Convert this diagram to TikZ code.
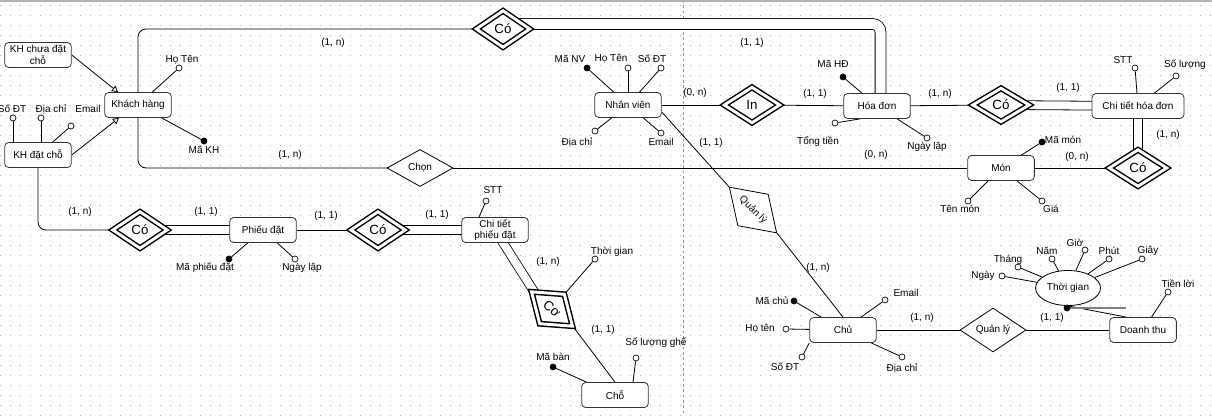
\documentclass[tikz,border=0pt]{standalone}
\usepackage{fontspec}
\setmainfont{Liberation Sans}
\usetikzlibrary{shapes.geometric,arrows.meta,calc,backgrounds}

\begin{document}
\begin{tikzpicture}[x=0.75pt,y=-0.75pt,
  font=\fontsize{7.5}{8.5}\selectfont,
  thing/.style={draw=black!80,fill=white,rounded corners=3pt,line width=0.6pt,minimum width=50pt,minimum height=18.75pt,inner sep=1pt,align=center},
  weak/.style={diamond,draw,fill=white,double,double distance=2.2pt,line width=1.1pt,inner sep=0pt,font=\fontsize{10}{12}\selectfont},
  rel/.style={diamond,draw,fill=white,line width=0.6pt,inner sep=0pt,minimum width=49.5pt,minimum height=27.75pt},
  att/.style={circle,draw,fill=white,line width=0.5pt,inner sep=0pt,minimum size=4.5pt},
  key/.style={att,fill=black},
  card/.style={inner sep=0pt},
  txt/.style={inner sep=0pt},
  dbl/.style={double,double distance=6pt,line width=0.6pt},
  link/.style={line width=0.6pt}]
  \useasboundingbox (0,0) rectangle (1212,416);

  % entities
  \node[thing] (KHc) at (38,55) {KH chưa đặt\\chỗ};
  \node[thing] (KH) at (138,105) {Khách hàng};
  \node[thing] (KHd) at (38,155) {KH đặt chỗ};
  \node[thing] (NV) at (628,105) {Nhân viên};
  \node[thing] (HD) at (877,106) {Hóa đơn};
  \node[thing,minimum width=69pt] (CTHD) at (1138,106) {Chi tiết hóa đơn};
  \node[thing] (Mon) at (1001,168) {Món};
  \node[thing] (PD) at (263,230) {Phiếu đặt};
  \node[thing] (CTPD) at (495,230) {Chi tiết\\phiếu đặt};
  \node[thing] (Cho) at (615,395) {Chỗ};
  \node[thing] (Chu) at (843,330) {Chủ};
  \node[thing] (DT) at (1143,330) {Doanh thu};
  \node[ellipse,draw,fill=white,line width=0.6pt,minimum width=48.75pt,minimum height=26.25pt,inner sep=0pt] (TG) at (1068,288) {Thời gian};

  % relationships
  \node[weak,minimum width=40.5pt,minimum height=27.75pt] (CoKH) at (503,29) {Có};
  \node[weak,minimum width=42pt,minimum height=27pt] (In) at (752,105) {In};
  \node[weak,minimum width=42.75pt,minimum height=25.5pt] (CoHD) at (1001,105) {Có};
  \node[weak,minimum width=43.5pt,minimum height=27.75pt] (CoMon) at (1138,168) {Có};
  \node[weak,minimum width=41.25pt,minimum height=27.75pt] (CoPD) at (140,230) {Có};
  \node[weak,minimum width=41.25pt,minimum height=27.75pt] (CoCT) at (378,230) {Có};
  \node[weak,minimum width=40.5pt,minimum height=29.25pt,rotate=-40] (CoCho) at (552,309) {Cơ};
  \node[rel] (Chon) at (420,168) {Chọn};
  \node[rel,rotate=-44] (QLnv) at (753,210) {Quản lý};
  \node[rel] (QLdt) at (993,330) {Quản lý};

  % attributes
  \node[att] (khHo) at (179,68) {};
  \node[txt] (khHoT) at (182,60) {Họ Tên};
  \node[key] (khMa) at (204,141) {};
  \node[txt] (khMaT) at (204,150) {Mã KH};
  \node[att] (kdSdt) at (13,118) {};
  \node[txt] (kdSdtT) at (12,109) {Số ĐT};
  \node[att] (kdDc) at (41,118) {};
  \node[txt] (kdDcT) at (51,109) {Địa chỉ};
  \node[att] (kdEm) at (71,126) {};
  \node[txt] (kdEmT) at (88,109) {Email};
  \node[key] (pdMa) at (229,259) {};
  \node[txt] (pdMaT) at (205,268) {Mã phiếu đặt};
  \node[att] (pdNgay) at (295,259) {};
  \node[txt] (pdNgayT) at (302,268) {Ngày lập};
  \node[att] (ctStt) at (486,201) {};
  \node[txt] (ctSttT) at (493,190) {STT};
  \node[att] (coTg) at (595,259) {};
  \node[txt] (coTgT) at (612,252) {Thời gian};
  \node[key] (choMa) at (553,367) {};
  \node[txt] (choMaT) at (553,357) {Mã bàn};
  \node[att] (choSl) at (636,358) {};
  \node[txt] (choSlT) at (656,343) {Số lượng ghế};
  \node[key] (nvMa) at (587,68) {};
  \node[txt] (nvMaT) at (570,59) {Mã NV};
  \node[att] (nvHo) at (628,68) {};
  \node[txt] (nvHoT) at (611,59) {Họ Tên};
  \node[att] (nvSdt) at (661,68) {};
  \node[txt] (nvSdtT) at (652,59) {Số ĐT};
  \node[att] (nvDc) at (595,131) {};
  \node[txt] (nvDcT) at (577,142) {Địa chỉ};
  \node[att] (nvEm) at (661,133) {};
  \node[txt] (nvEmT) at (661,142) {Email};
  \node[key] (hdMa) at (843,77) {};
  \node[txt] (hdMaT) at (833,64) {Mã HĐ};
  \node[att] (hdTong) at (835,123) {};
  \node[txt] (hdTongT) at (818,142) {Tổng tiền};
  \node[att] (hdNgay) at (927,138) {};
  \node[txt] (hdNgayT) at (927,147) {Ngày lập};
  \node[att] (cthStt) at (1135,68) {};
  \node[txt] (cthSttT) at (1123,60) {STT};
  \node[att] (cthSl) at (1176,76) {};
  \node[txt] (cthSlT) at (1185,65) {Số lượng};
  \node[key] (monMa) at (1042,142) {};
  \node[txt] (monMaT) at (1063,140) {Mã món};
  \node[att] (monTen) at (968,201) {};
  \node[txt] (monTenT) at (960,209) {Tên món};
  \node[att] (monGia) at (1042,201) {};
  \node[txt] (monGiaT) at (1051,209) {Giá};
  \node[key] (chuMa) at (794,301) {};
  \node[txt] (chuMaT) at (772,301) {Mã chủ};
  \node[att] (chuEm) at (885,300) {};
  \node[txt] (chuEmT) at (906,293) {Email};
  \node[att] (chuHo) at (786,329) {};
  \node[txt] (chuHoT) at (760,329) {Họ tên};
  \node[att] (chuSdt) at (802,357) {};
  \node[txt] (chuSdtT) at (785,367) {Số ĐT};
  \node[att] (chuDc) at (902,357) {};
  \node[txt] (chuDcT) at (902,368) {Địa chỉ};
  \node[att] (dtTl) at (1168,292) {};
  \node[txt] (dtTlT) at (1178,284) {Tiền lời};
  \node[key] (dtTg) at (1067,308) {};
  \coordinate (dtTgEnd) at (1126,308);
  \node[att] (tgNgay) at (1002,276) {};
  \node[txt] (tgNgayT) at (983,276) {Ngày};
  \node[att] (tgThang) at (1018,267) {};
  \node[txt] (tgThangT) at (1008,260) {Tháng};
  \node[att] (tgNam) at (1052,259) {};
  \node[txt] (tgNamT) at (1047,251) {Năm};
  \node[att] (tgGio) at (1085,250) {};
  \node[txt] (tgGioT) at (1075,243) {Giờ};
  \node[att] (tgPhut) at (1109,259) {};
  \node[txt] (tgPhutT) at (1109,251) {Phút};
  \node[att] (tgGiay) at (1142,259) {};
  \node[txt] (tgGiayT) at (1148,251) {Giây};

  % cardinalities
  \node[card] (c1) at (333,43) {(1, n)};
  \node[card] (c2) at (752,43) {(1, 1)};
  \node[card] (c3) at (695,93) {(0, n)};
  \node[card] (c4) at (815,94) {(1, 1)};
  \node[card] (c5) at (940,94) {(1, n)};
  \node[card] (c6) at (1068,88) {(1, 1)};
  \node[card] (c7) at (1168,135) {(1, n)};
  \node[card] (c8) at (1077,157) {(0, n)};
  \node[card] (c9) at (876,155) {(0, n)};
  \node[card] (c10) at (290,155) {(1, n)};
  \node[card] (c11) at (711,143) {(1, 1)};
  \node[card] (c12) at (818,268) {(1, n)};
  \node[card] (c13) at (80,212) {(1, n)};
  \node[card] (c14) at (206,212) {(1, 1)};
  \node[card] (c15) at (326,216) {(1, 1)};
  \node[card] (c16) at (437,215) {(1, 1)};
  \node[card] (c17) at (548,262) {(1, n)};
  \node[card] (c18) at (603,330) {(1, 1)};
  \node[card] (c19) at (922,318) {(1, n)};
  \node[card] (c20) at (1052,318) {(1, 1)};

  \begin{scope}[on background layer]
    % grid
    \foreach \y in {5,15,...,415}
      \draw[black!30,line width=0.6pt,dash pattern=on 0.6pt off 6.9pt] (0,\y) -- (1212,\y);
    \draw[black!40,dash pattern=on 2pt off 2pt] (683,0) -- (683,416);
    \draw[black!30,line width=1.5pt] (0,1) -- (1212,1);
    % links
    \draw[link,rounded corners=6] (CoKH.center) -| (KH.center) |- (Chon.center);
    \draw[link] (Chon) -- (Mon);
    \draw[dbl,double distance=7.5pt,rounded corners=6] ($(CoKH.center)+(0,-5)$) -| ($(HD.center)+(3.5,0)$);
    \draw[link] (NV) -- (In);
    \draw[link] (In) -- (HD);
    \draw[link] (HD) -- (CoHD);
    \draw[dbl] (CoHD.center) -- (CTHD.center);
    \draw[dbl] (CTHD.center) -- (CoMon.center);
    \draw[link] (Mon) -- (CoMon);
    \draw[link] ($(NV.east)+(0,7)$) -- (QLnv.west);
    \draw[link] (QLnv.east) -- (Chu.north);
    \draw[link] (Chu) -- (QLdt);
    \draw[link] (QLdt) -- (DT);
    \draw[link,rounded corners=6] (KHd.center) |- (CoPD.center);
    \draw[dbl] (CoPD.center) -- (PD.center);
    \draw[link] (PD) -- (CoCT);
    \draw[dbl] (CoCT.center) -- (CTPD.center);
    \draw[dbl] (CTPD.center) -- ($(CoCho.west)!0.3!(CoCho.center)$);
    \draw[link] (CoCho.east) -- (Cho.north);
    \draw[link] (CoCho.north) -- (coTg);
    \draw[link,-{Triangle[open,length=4.5pt,width=5pt]}] (KHc.east) -- ($(KH.north)+(-20,0)$);
    \draw[link,-{Triangle[open,length=4.5pt,width=5pt]}] (KHd.east) -- ($(KH.south)+(-19,0)$);
    % attribute lines
    \draw[link] (KH) -- (khHo);
    \draw[link] (KH) -- (khMa);
    \draw[link] (kdSdt) -- (kdSdt |- KHd.north);
    \draw[link] (kdDc) -- (kdDc |- KHd.north);
    \draw[link] (KHd) -- (kdEm);
    \draw[link] (PD) -- (pdMa);
    \draw[link] (PD) -- (pdNgay);
    \draw[link] ($(CTPD.north)+(-16,0)$) -- (ctStt);
    \draw[link] (Cho) -- (choMa);
    \draw[link] ($(Cho.north)+(18,0)$) -- (choSl);
    \draw[link] (NV) -- (nvMa);
    \draw[link] (NV) -- (nvHo);
    \draw[link] (NV) -- (nvSdt);
    \draw[link] (NV) -- (nvDc);
    \draw[link] (NV) -- (nvEm);
    \draw[link] (HD) -- (hdMa);
    \draw[link] ($(HD.south)+(-17,0)$) -- (hdTong);
    \draw[link] (HD) -- (hdNgay);
    \draw[link] (CTHD) -- (cthStt);
    \draw[link] (CTHD) -- (cthSl);
    \draw[link] (Mon) -- (monMa);
    \draw[link] (Mon) -- (monTen);
    \draw[link] (Mon) -- (monGia);
    \draw[link] (Chu) -- (chuMa);
    \draw[link] (Chu) -- (chuEm);
    \draw[link] (Chu) -- (chuHo);
    \draw[link] (Chu.south west) -- (chuSdt);
    \draw[link] (Chu) -- (chuDc);
    \draw[link] (DT) -- (dtTl);
    \draw[link] ($(DT.north west)+(17,0)$) -- (TG.south);
    \draw[black!50,line width=1pt] (dtTg) -- (dtTgEnd);
    \draw[link] (TG) -- (tgNgay);
    \draw[link] (TG) -- (tgThang);
    \draw[link] (TG) -- (tgNam);
    \draw[link] (TG) -- (tgGio);
    \draw[link] (TG) -- (tgPhut);
    \draw[link] (TG) -- (tgGiay);
  \end{scope}
\end{tikzpicture}
\end{document}
